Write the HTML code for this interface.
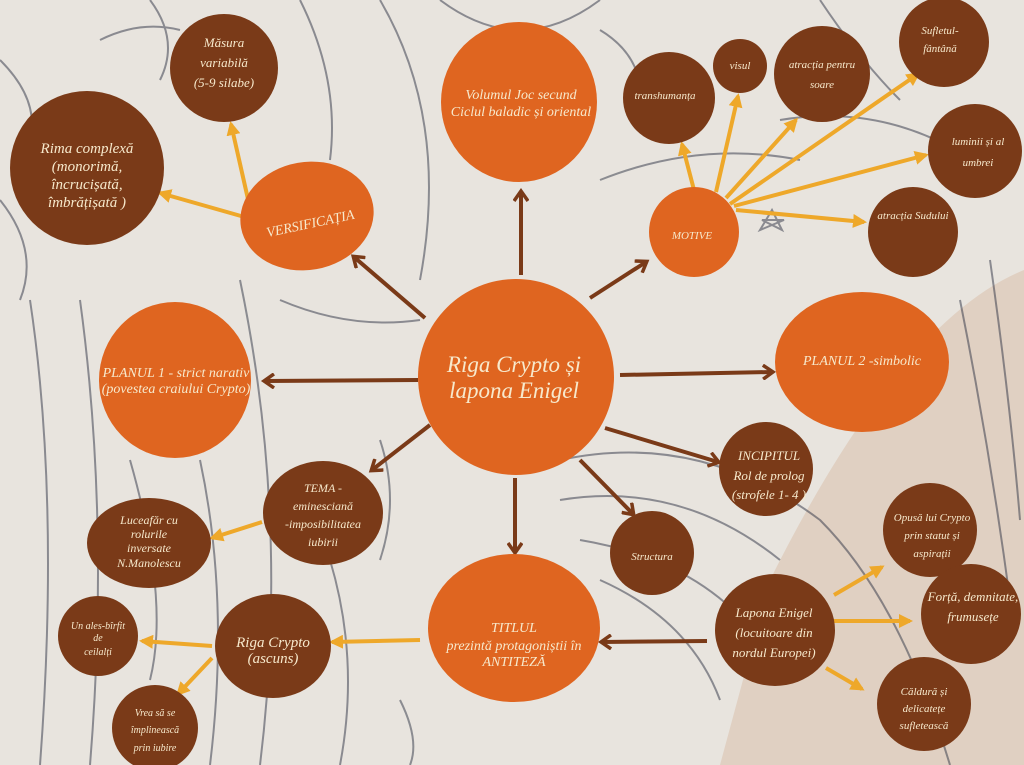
<!DOCTYPE html>
<html><head><meta charset="utf-8"><style>
html,body{margin:0;padding:0;width:1024px;height:765px;overflow:hidden;background:#e9e5df}
svg{display:block}
text{font-family:"Liberation Serif",serif;font-style:italic;fill:#f7e9cc}
</style></head><body>
<svg width="1024" height="765" viewBox="0 0 1024 765" xmlns="http://www.w3.org/2000/svg">
<defs>
<marker id="ab" markerWidth="16" markerHeight="16" refX="10" refY="8" orient="auto" markerUnits="userSpaceOnUse" viewBox="0 0 16 16"><path d="M1,1 L11,8 L1,15" fill="none" stroke="#7a3a18" stroke-width="3.5"/></marker>
<marker id="ay" markerWidth="14" markerHeight="14" refX="11" refY="7" orient="auto" markerUnits="userSpaceOnUse"><path d="M0,0 L14,7 L0,14 Z" fill="#eea82a"/></marker>
</defs>
<rect width="1024" height="765" fill="#e8e4de"/>
<path d="M720,765 L770,580 Q900,320 1024,270 L1024,765 Z" fill="#e0d0c2"/>
<!-- sketch lines -->
<g fill="none" stroke="#2e3344" stroke-width="2" opacity="0.5">
<path d="M30,300 Q60,500 40,765"/><path d="M80,300 Q110,520 90,765"/><path d="M200,460 Q230,600 210,765"/>
<path d="M240,280 Q290,520 260,765"/><path d="M330,560 Q360,660 340,765"/><path d="M130,460 Q170,600 150,680"/>
<path d="M380,0 Q450,120 420,280"/><path d="M440,0 Q520,60 600,0"/><path d="M600,180 Q700,140 800,160"/>
<path d="M560,460 Q700,430 820,520 Q900,600 950,765"/><path d="M560,500 Q680,480 780,560"/>
<path d="M580,540 Q700,560 760,640"/><path d="M600,580 Q690,620 720,700"/>
<path d="M780,120 Q900,100 1000,180"/><path d="M820,0 Q860,60 900,100"/>
<path d="M0,200 Q40,250 20,300"/><path d="M150,0 Q180,40 160,80"/>
<path d="M100,40 Q140,20 180,30"/><path d="M280,300 Q350,330 420,320"/>
<path d="M760,230 l12,-20 l10,20 l-20,-10 h22 Z"/>
<path d="M960,300 Q990,450 1010,600"/><path d="M990,260 Q1010,400 1020,520"/>
<path d="M300,0 Q340,80 330,160"/><path d="M0,60 Q40,100 30,140"/><path d="M600,30 Q650,60 640,120"/>
<path d="M380,440 Q400,500 380,560"/><path d="M400,700 Q420,740 410,765"/>
</g>
<!-- brown arrows -->
<g stroke="#7a3a18" stroke-width="4" marker-end="url(#ab)" fill="none">
<line x1="425" y1="318" x2="354" y2="257"/>
<line x1="521" y1="275" x2="521" y2="192"/>
<line x1="590" y1="298" x2="646" y2="262"/>
<line x1="620" y1="375" x2="772" y2="372"/>
<line x1="605" y1="428" x2="718" y2="462"/>
<line x1="580" y1="460" x2="633" y2="514"/>
<line x1="515" y1="478" x2="515" y2="552"/>
<line x1="430" y1="425" x2="372" y2="470"/>
<line x1="418" y1="380" x2="265" y2="381"/>
<line x1="707" y1="641" x2="602" y2="642"/>
</g>
<!-- yellow arrows -->
<g stroke="#eea82a" stroke-width="4" marker-end="url(#ay)" fill="none">
<line x1="250" y1="208" x2="231" y2="124"/>
<line x1="248" y1="218" x2="160" y2="193"/>
<line x1="694" y1="190" x2="682" y2="144"/>
<line x1="716" y1="192" x2="738" y2="96"/>
<line x1="726" y1="198" x2="796" y2="120"/>
<line x1="730" y1="204" x2="918" y2="74"/>
<line x1="734" y1="206" x2="926" y2="155"/>
<line x1="736" y1="210" x2="864" y2="222"/>
<line x1="262" y1="522" x2="212" y2="538"/>
<line x1="420" y1="640" x2="332" y2="642"/>
<line x1="212" y1="646" x2="142" y2="641"/>
<line x1="212" y1="658" x2="178" y2="694"/>
<line x1="834" y1="595" x2="882" y2="567"/>
<line x1="832" y1="621" x2="910" y2="621"/>
<line x1="826" y1="668" x2="862" y2="689"/>
</g>
<!-- nodes -->
<g fill="#7a3a18">
<circle cx="224" cy="68" r="54"/>
<circle cx="87" cy="168" r="77"/>
<circle cx="669" cy="98" r="46"/>
<circle cx="740" cy="66" r="27"/>
<circle cx="822" cy="74" r="48"/>
<circle cx="944" cy="42" r="45"/>
<circle cx="975" cy="151" r="47"/>
<circle cx="913" cy="232" r="45"/>
<circle cx="766" cy="469" r="47"/>
<ellipse cx="323" cy="513" rx="60" ry="52"/>
<ellipse cx="149" cy="543" rx="62" ry="45"/>
<circle cx="652" cy="553" r="42"/>
<circle cx="930" cy="530" r="47"/>
<ellipse cx="775" cy="630" rx="60" ry="56"/>
<circle cx="971" cy="614" r="50"/>
<circle cx="924" cy="704" r="47"/>
<ellipse cx="273" cy="646" rx="58" ry="52"/>
<circle cx="98" cy="636" r="40"/>
<circle cx="155" cy="728" r="43"/>
</g>
<g fill="#df6520">
<ellipse cx="307" cy="216" rx="67" ry="54" transform="rotate(-10 307 216)"/>
<ellipse cx="519" cy="102" rx="78" ry="80"/>
<circle cx="694" cy="232" r="45"/>
<ellipse cx="516" cy="377" rx="98" ry="98"/>
<ellipse cx="175" cy="380" rx="76" ry="78"/>
<ellipse cx="862" cy="362" rx="87" ry="70"/>
<ellipse cx="514" cy="628" rx="86" ry="74"/>
</g>
<!-- labels -->
<g text-anchor="middle">
<text x="224" y="47" font-size="13">Măsura</text><text x="224" y="67" font-size="13">variabilă</text><text x="224" y="87" font-size="13">(5-9 silabe)</text>
<text x="87" y="153" font-size="15">Rima complexă</text><text x="87" y="171" font-size="15">(monorimă,</text><text x="87" y="189" font-size="15">încrucișată,</text><text x="87" y="207" font-size="15">îmbrățișată )</text>
<text x="310" y="228" font-size="14" transform="rotate(-12 310 222)">VERSIFICAȚIA</text>
<text x="521" y="99" font-size="14">Volumul Joc secund</text><text x="521" y="116" font-size="14">Ciclul baladic și oriental</text>
<text x="665" y="99" font-size="11">transhumanța</text>
<text x="740" y="69" font-size="11">visul</text>
<text x="822" y="68" font-size="11">atracția pentru</text><text x="822" y="88" font-size="11">soare</text>
<text x="940" y="34" font-size="11">Sufletul-</text><text x="940" y="52" font-size="11">fântână</text>
<text x="978" y="145" font-size="11">luminii și al</text><text x="978" y="166" font-size="11">umbrei</text>
<text x="913" y="219" font-size="11">atracția Sudului</text>
<text x="692" y="239" font-size="11">MOTIVE</text>
<text x="514" y="372" font-size="23">Riga Crypto și</text><text x="514" y="398" font-size="23">lapona Enigel</text>
<text x="176" y="377" font-size="14">PLANUL 1 - strict narativ</text><text x="176" y="393" font-size="14">(povestea craiului Crypto)</text>
<text x="862" y="365" font-size="14">PLANUL 2 -simbolic</text>
<text x="769" y="460" font-size="13">INCIPITUL</text><text x="769" y="480" font-size="13">Rol de prolog</text><text x="769" y="499" font-size="13">(strofele 1- 4 )</text>
<text x="323" y="492" font-size="12">TEMA -</text><text x="323" y="510" font-size="12">eminesciană</text><text x="323" y="528" font-size="12">-imposibilitatea</text><text x="323" y="546" font-size="12">iubirii</text>
<text x="149" y="524" font-size="12">Luceafăr cu</text><text x="149" y="538" font-size="12">rolurile</text><text x="149" y="552" font-size="12">inversate</text><text x="149" y="567" font-size="12">N.Manolescu</text>
<text x="652" y="560" font-size="11">Structura</text>
<text x="514" y="632" font-size="14">TITLUL</text><text x="514" y="650" font-size="14">prezintă protagoniștii în</text><text x="514" y="666" font-size="14">ANTITEZĂ</text>
<text x="932" y="521" font-size="11">Opusă lui Crypto</text><text x="932" y="539" font-size="11">prin statut și</text><text x="932" y="557" font-size="11">aspirații</text>
<text x="774" y="617" font-size="13">Lapona Enigel</text><text x="774" y="637" font-size="13">(locuitoare din</text><text x="774" y="657" font-size="13">nordul Europei)</text>
<text x="973" y="601" font-size="13">Forță, demnitate,</text><text x="973" y="621" font-size="13">frumusețe</text>
<text x="924" y="695" font-size="11">Căldură și</text><text x="924" y="712" font-size="11">delicatețe</text><text x="924" y="729" font-size="11">sufletească</text>
<text x="273" y="647" font-size="15">Riga Crypto</text><text x="273" y="663" font-size="15">(ascuns)</text>
<text x="98" y="629" font-size="10">Un ales-bîrfit</text><text x="98" y="641" font-size="10">de</text><text x="98" y="655" font-size="10">ceilalți</text>
<text x="155" y="716" font-size="10">Vrea să se</text><text x="155" y="733" font-size="10">împlinească</text><text x="155" y="751" font-size="10">prin iubire</text>
</g>
</svg>
</body></html>
